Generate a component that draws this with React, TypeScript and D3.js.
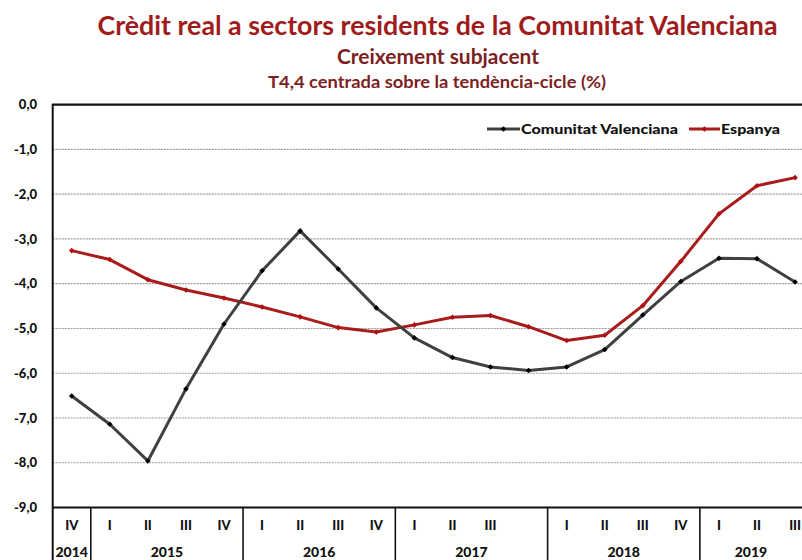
import React from "react";
import * as d3 from "d3";

const quarterLabels = ["IV", "I", "II", "III", "IV", "I", "II", "III", "IV", "I", "II", "III", "", "I", "II", "III", "IV", "I", "II", "III"];
const years = ["2014", "2015", "2016", "2017", "2018", "2019"];
const yearCounts = [1, 4, 4, 4, 4, 3];
const valenciana = [-6.51, -7.14, -7.96, -6.35, -4.9, -3.71, -2.82, -3.67, -4.54, -5.21, -5.65, -5.86, -5.94, -5.86, -5.47, -4.7, -3.95, -3.43, -3.44, -3.96];
const espanya = [-3.26, -3.46, -3.91, -4.14, -4.32, -4.52, -4.74, -4.98, -5.08, -4.92, -4.75, -4.71, -4.96, -5.27, -5.15, -4.49, -3.5, -2.44, -1.81, -1.63];
const yTicks = [0, -1, -2, -3, -4, -5, -6, -7, -8, -9];

const W = 802;
const H = 560;
const FONT = "Lato, 'Open Sans', sans-serif";
const BLACK_LINE = "#404040";
const RED_LINE = "#A81C1C";

export default function App() {
  const idx = d3.range(quarterLabels.length);
  const x = d3.scaleBand<number>().domain(idx).range([52.7, 52.7 + 20 * 38.07]).padding(0);
  const y = d3.scaleLinear().domain([-9, 0]).range([507.5, 104.7]);
  const cx = (i: number) => (x(i) as number) + x.bandwidth() / 2;
  const line = d3.line<number>().x((_, i) => cx(i)).y((d) => y(d));
  const left = 52.7;
  const bottom = y(-9);
  const top = y(0);

  const groups: { year: string; start: number; end: number }[] = [];
  let acc = 0;
  years.forEach((yr, k) => {
    const s = x(acc) as number;
    const e = (x(acc) as number) + yearCounts[k] * x.bandwidth();
    groups.push({ year: yr, start: s, end: e });
    acc += yearCounts[k];
  });

  const diamond = (px: number, py: number, r: number) =>
    `M${px},${py - r}L${px + r},${py}L${px},${py + r}L${px - r},${py}Z`;

  return (
    <svg width={W} height={H} style={{ position: "absolute", left: 0, top: 0, background: "#fff" }} fontFamily={FONT}>
      <rect x={0} y={0} width={W} height={H} fill="#fff" />
      {/* titles */}
      <text x={437.5} y={35} textAnchor="middle" fontSize={26} fontWeight={700} fill="#A01C1C" textLength={680} lengthAdjust="spacingAndGlyphs">
        Crèdit real a sectors residents de la Comunitat Valenciana
      </text>
      <text x={438} y={64} textAnchor="middle" fontSize={20} fontWeight={700} fill="#7C1F1F" textLength={202} lengthAdjust="spacingAndGlyphs">
        Creixement subjacent
      </text>
      <text x={437} y={88} textAnchor="middle" fontSize={17} fontWeight={700} fill="#7C1F1F" textLength={338} lengthAdjust="spacingAndGlyphs">
        T4,4 centrada sobre la tendència-cicle (%)
      </text>

      {/* gridlines */}
      {yTicks.filter((t) => t !== 0 && t !== -9).map((t) => (
        <line key={t} x1={left} x2={W} y1={y(t)} y2={y(t)} stroke="#9a9a9a" strokeWidth={1.2} strokeDasharray="2,1" />
      ))}

      {/* y tick labels */}
      {yTicks.map((t) => (
        <text key={t} x={37} y={y(t)} dy="0.35em" textAnchor="end" fontSize={13} fontWeight={900} fill="#111">
          {d3.format(".1f")(t).replace(".", ",").replace("−", "-")}
        </text>
      ))}

      {/* frame */}
      <line x1={left} x2={W} y1={top} y2={top} stroke="#111" strokeWidth={2.2} />
      <line x1={left} x2={W} y1={bottom} y2={bottom} stroke="#111" strokeWidth={2} />
      <line x1={left} x2={left} y1={top - 1} y2={H} stroke="#111" strokeWidth={2} />

      {/* year separators */}
      {groups.slice(1).map((g) => (
        <line key={g.year} x1={g.start} x2={g.start} y1={bottom} y2={H} stroke="#111" strokeWidth={1.6} />
      ))}

      {/* quarter labels */}
      {idx.map((i) => (
        <text key={i} x={cx(i)} y={530} textAnchor="middle" fontSize={13} fontWeight={900} fill="#111">
          {quarterLabels[i]}
        </text>
      ))}
      {/* year labels */}
      {groups.map((g) => (
        <text key={g.year} x={(g.start + Math.min(g.end, W)) / 2} y={557} textAnchor="middle" fontSize={14} fontWeight={900} fill="#111">
          {g.year}
        </text>
      ))}

      {/* series */}
      <path d={line(espanya) as string} fill="none" stroke={RED_LINE} strokeWidth={3} strokeLinejoin="round" />
      {espanya.map((v, i) => (
        <path key={i} d={diamond(cx(i), y(v), 2.8)} fill="#B01010" />
      ))}
      <path d={line(valenciana) as string} fill="none" stroke={BLACK_LINE} strokeWidth={3} strokeLinejoin="round" />
      {valenciana.map((v, i) => (
        <path key={i} d={diamond(cx(i), y(v), 2.8)} fill="#000" />
      ))}

      {/* legend */}
      <g>
        <line x1={487} x2={520} y1={129} y2={129} stroke={BLACK_LINE} strokeWidth={3} />
        <path d={diamond(503.5, 129, 2.8)} fill="#000" />
        <text x={521} y={129} dy="0.35em" fontSize={13} fontWeight={900} fill="#111" textLength={157} lengthAdjust="spacingAndGlyphs">
          Comunitat Valenciana
        </text>
        <line x1={689} x2={720} y1={129} y2={129} stroke={RED_LINE} strokeWidth={3} />
        <path d={diamond(704.5, 129, 2.8)} fill="#B01010" />
        <text x={721} y={129} dy="0.35em" fontSize={13} fontWeight={900} fill="#111" textLength={59} lengthAdjust="spacingAndGlyphs">
          Espanya
        </text>
      </g>
    </svg>
  );
}
